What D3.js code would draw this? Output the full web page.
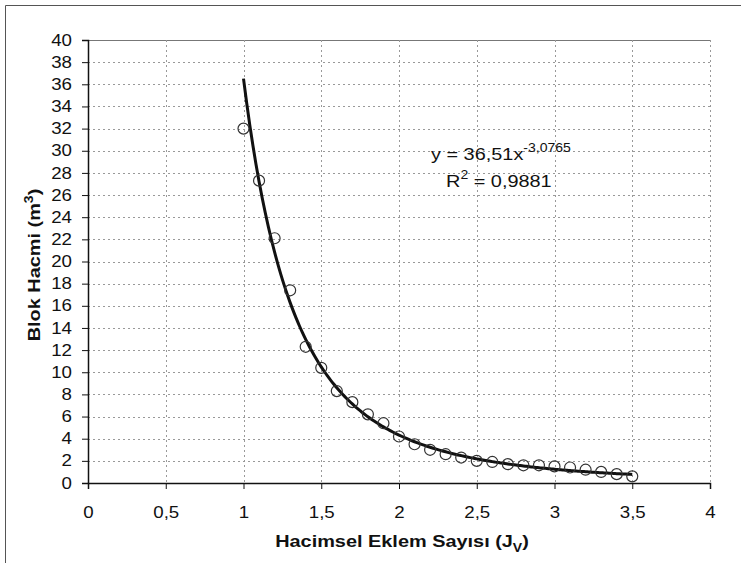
<!DOCTYPE html>
<html>
<head>
<meta charset="utf-8">
<script src="https://cdn.jsdelivr.net/npm/d3@7"></script>
<style>
  body { margin: 0; background: #fff; }
  text { font-family: "Liberation Sans", Arial, sans-serif; fill: #111; }
</style>
</head>
<body>
<div id="div_id_main"></div>
<script>

// data
var vJv = [1.0, 1.1, 1.2, 1.3, 1.4, 1.5, 1.6, 1.7, 1.8, 1.9, 2.0, 2.1, 2.2,
           2.3, 2.4, 2.5, 2.6, 2.7, 2.8, 2.9, 3.0, 3.1, 3.2, 3.3, 3.4, 3.5];
var vVolume = [32.0, 27.3, 22.1, 17.4, 12.3, 10.4, 8.3, 7.3, 6.2, 5.4, 4.2, 3.5, 3.0,
               2.6, 2.3, 2.0, 1.9, 1.7, 1.6, 1.6, 1.5, 1.4, 1.2, 1.0, 0.8, 0.6];

// power trendline as printed on the chart
var vTrendCoef = [36.51, -3.0765];
var vTrendRange = [1.0, 3.5];

var vXTicks = [0, 0.5, 1, 1.5, 2, 2.5, 3, 3.5, 4];
var vYTicks = d3.range(0, 41, 2);

var WIDTH = 741;
var HEIGHT = 563;

var PLOT_LEFT = 88;
var PLOT_RIGHT = 710;
var PLOT_TOP = 40;
var PLOT_BOTTOM = 483;

// the scanned text is a little wider than Arial
var TEXT_STRETCH = 1.17;

function funcStretch(x, y) {
	return "translate(" + x + "," + y + ") scale(" + TEXT_STRETCH + ",1)";
}

function funcDraw_Main() {

	let fmtComma = function (d) { return String(d).replace(".", ","); };

	let svgMain = d3.select("#div_id_main")
					.append("svg")
						.attr("width", WIDTH)
						.attr("height", HEIGHT);

	// outer frame (only top and left edges fall inside the picture)
	svgMain.append("path")
				.attr("d", "M5.5," + (HEIGHT + 5) + "V5.5H" + (WIDTH + 5))
				.attr("fill", "none")
				.attr("stroke", "#555")
				.attr("stroke-width", 1);

	let fScale_X = d3.scaleLinear().domain([0, 4]).range([PLOT_LEFT, PLOT_RIGHT]);
	let fScale_Y = d3.scaleLinear().domain([0, 40]).range([PLOT_BOTTOM, PLOT_TOP]);

	// ---------------------------------------------------------------
	// grid

	let gGrid = svgMain.append("g");

	gGrid.selectAll("line.h")
			.data(vYTicks.filter(function (d) { return d > 0; }))
			.enter()
			.append("line")
				.attr("x1", PLOT_LEFT).attr("x2", PLOT_RIGHT)
				.attr("y1", function (d) { return Math.round(fScale_Y(d)) + 0.5; })
				.attr("y2", function (d) { return Math.round(fScale_Y(d)) + 0.5; })
				.attr("stroke", function (d) { return d == 40 ? "#777" : "#999"; })
				.attr("stroke-dasharray", function (d) { return d == 40 ? null : "2,3"; });

	gGrid.selectAll("line.v")
			.data(vXTicks.filter(function (d) { return d > 0; }))
			.enter()
			.append("line")
				.attr("y1", PLOT_TOP).attr("y2", PLOT_BOTTOM)
				.attr("x1", function (d) { return Math.round(fScale_X(d)) + 0.5; })
				.attr("x2", function (d) { return Math.round(fScale_X(d)) + 0.5; })
				.attr("stroke", "#999")
				.attr("stroke-dasharray", "2,3");

	// ---------------------------------------------------------------
	// axes

	let axisX = d3.axisBottom(fScale_X)
					.tickValues(vXTicks)
					.tickSize(6)
					.tickPadding(18)
					.tickFormat(fmtComma);

	let axisY = d3.axisLeft(fScale_Y)
					.tickValues(vYTicks)
					.tickSize(6)
					.tickPadding(10)
					.tickFormat(fmtComma);

	let gX = svgMain.append("g")
				.attr("transform", "translate(0," + PLOT_BOTTOM + ")")
				.call(axisX);

	let gY = svgMain.append("g")
				.attr("transform", "translate(" + PLOT_LEFT + ",0)")
				.call(axisY);

	[gX, gY].forEach(function (g) {
		g.select(".domain").attr("stroke", "#111").attr("stroke-width", 1.5);
		g.selectAll(".tick line").attr("stroke", "#111");
		g.selectAll(".tick text")
			.attr("font-size", "16px")
			.attr("font-family", "Liberation Sans, Arial, sans-serif")
			.attr("fill", "#111");
	});

	gX.selectAll(".tick text")
		.attr("transform", "scale(" + TEXT_STRETCH + ",1)");

	gY.selectAll(".tick text")
		.attr("transform", function () {
			let x = +this.getAttribute("x");
			return "translate(" + x + ",0) scale(" + TEXT_STRETCH + ",1) translate(" + (-x) + ",0)";
		});

	// ---------------------------------------------------------------
	// trendline

	let vTrendX = d3.range(vTrendRange[0], vTrendRange[1] + 0.001, 0.02);

	let lineTrend = d3.line()
						.x(function (d) { return fScale_X(d); })
						.y(function (d) { return fScale_Y(vTrendCoef[0] * Math.pow(d, vTrendCoef[1])); })
						.curve(d3.curveMonotoneX);

	svgMain.append("path")
				.attr("d", lineTrend(vTrendX))
				.attr("fill", "none")
				.attr("stroke", "#111")
				.attr("stroke-width", 3);

	// ---------------------------------------------------------------
	// points

	svgMain.selectAll("circle.pt")
			.data(vJv)
			.enter()
			.append("circle")
				.attr("cx", function (d) { return fScale_X(d); })
				.attr("cy", function (d, i) { return fScale_Y(vVolume[i]); })
				.attr("r", 5.5)
				.attr("fill", "none")
				.attr("stroke", "#333")
				.attr("stroke-width", 1.2);

	// ---------------------------------------------------------------
	// equation

	let txtEq = svgMain.append("text")
					.attr("transform", funcStretch(431, 160))
					.attr("font-size", "17px");
	txtEq.append("tspan").text("y = 36,51x");
	txtEq.append("tspan").attr("dy", -8).attr("font-size", "12px").text("-3,0765");

	let txtR = svgMain.append("text")
					.attr("transform", funcStretch(446, 187))
					.attr("font-size", "17px");
	txtR.append("tspan").text("R");
	txtR.append("tspan").attr("dy", -8).attr("font-size", "12px").text("2");
	txtR.append("tspan").attr("dy", 8).text(" = 0,9881");

	// ---------------------------------------------------------------
	// axis titles

	let txtX = svgMain.append("text")
					.attr("transform", funcStretch(402, 547))
					.attr("text-anchor", "middle")
					.attr("font-size", "17px")
					.attr("font-weight", "bold");
	txtX.append("tspan").text("Hacimsel Eklem Sayısı (J");
	txtX.append("tspan").attr("dy", 5).attr("font-size", "12px").text("V");
	txtX.append("tspan").attr("dy", -5).text(")");

	let txtY = svgMain.append("text")
					.attr("transform", "translate(40,265) rotate(-90) scale(" + TEXT_STRETCH + ",1)")
					.attr("text-anchor", "middle")
					.attr("font-size", "17px")
					.attr("font-weight", "bold");
	txtY.append("tspan").text("Blok Hacmi (m");
	txtY.append("tspan").attr("dy", -7).attr("font-size", "12px").text("3");
	txtY.append("tspan").attr("dy", 7).text(")");
}

funcDraw_Main();

</script>
</body>
</html>
